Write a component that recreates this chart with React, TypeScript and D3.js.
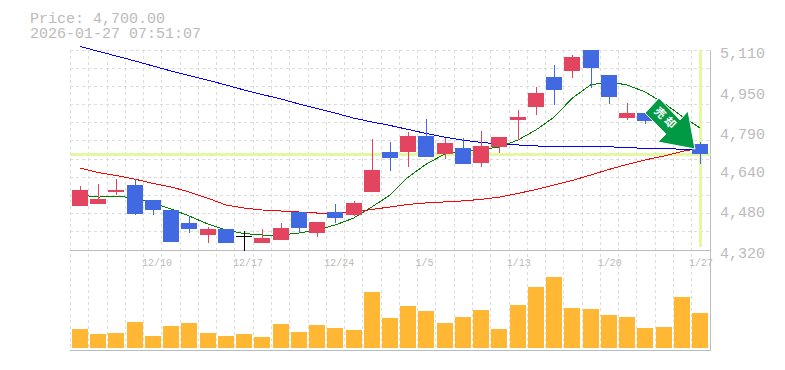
import React from "react";
import * as d3 from "d3";

const highs = [4573,4581,4600,4600,4518,4478,4454,4411,4403,4395,4403,4427,4470,4431,4502,4514,4758,4747,4786,4837,4762,4762,4790,4766,4873,4964,5051,5090,5140,5011,4901,4861,4889,4822,4747];
const lows = [4494,4502,4537,4458,4458,4352,4387,4348,4348,4316,4348,4360,4387,4371,4427,4454,4549,4632,4648,4687,4679,4660,4648,4703,4754,4853,4893,4999,4960,4897,4833,4818,4802,4740,4660];
const opens = [4494,4502,4549,4577,4518,4478,4427,4379,4403,4374,4348,4360,4470,4387,4470,4458,4549,4707,4707,4770,4699,4723,4664,4727,4833,4885,5003,5027,5130,5011,4841,4861,4865,4814,4739];
const closes = [4557,4521,4557,4462,4478,4352,4403,4403,4348,4374,4367,4407,4407,4431,4446,4506,4636,4683,4770,4687,4743,4660,4731,4766,4845,4940,4952,5082,5039,4924,4861,4830,4826,4754,4700];
const maBlue = [5124,5105,5086,5067,5047,5027,5009,4991,4972,4952,4934,4917,4897,4879,4861,4841,4826,4812,4796,4780,4766,4754,4745,4739,4735,4731,4729,4728,4728,4728,4724,4722,4721,4718,4715];
const maRed = [4644,4626,4614,4600,4583,4569,4549,4525,4498,4486,4478,4474,4470,4466,4466,4470,4480,4490,4500,4506,4510,4514,4520,4529,4543,4559,4577,4595,4616,4638,4658,4676,4691,4709,4723];
const maGreen = [4537,4529,4533,4525,4506,4482,4454,4423,4399,4385,4379,4379,4387,4399,4419,4446,4490,4537,4608,4660,4699,4711,4717,4727,4754,4794,4845,4920,4972,4984,4972,4944,4901,4849,4802];
const volumes = [19,14,15,26,12,22,25,15,12,14,11,24,16,23,20,18,56,30,42,37,25,31,38,19,43,61,71,40,39,33,31,20,21,51,35];
const dateTicks: [number, string][] = [[4,"12/10"],[9,"12/17"],[14,"12/24"],[19,"1/5"],[24,"1/13"],[29,"1/20"],[34,"1/27"]];
const priceTicks = [5110,4950,4790,4640,4480,4320];
const currentPrice = 4700;
const title = ["Price: 4,700.00", "2026-01-27 07:51:07"];
const signal = "売却";

const W = 785, H = 370;
const L = 70, R = 709.5, T = 50, M = 250, B = 350;
const mono = "'Liberation Mono', monospace";
const GRID = "#dcdcdc", FRAME = "#bdbdbd", TXT = "#bbbbbb";
const NEON = "#e4f7a3";

export default function App() {
  const n = closes.length;
  const x = d3.scaleLinear().domain([0, n - 1]).range([80, 700]);
  const band = (R - L) / n;
  const y = d3.scaleLinear().domain([4320, 5110]).range([M, T]);
  const v = d3.scaleLinear().domain([0, 100]).range([348, 248]);
  const line = d3.line<number>().x((_, i) => x(i)).y(d => y(d));
  const hGrid = d3.range(0, 12).map(k => T + (k * (M - T)) / 11);
  const vGrid = d3.range(0, n).map(k => L + 0.5 + k * band);
  const tip = [695, 149];
  const arrow = [[-36,-51],[-50,-36],[-29,-15],[-37,-7],[0,0],[-7,-38],[-15,-29]];
  return (
    <svg width={W} height={H} style={{ position: "absolute", left: 0, top: 0, background: "#fff" }}>
      <defs>
        <clipPath id="price"><rect x={L} y={T} width={R - L + 1} height={M - T + 1} /></clipPath>
      </defs>
      {title.map((t, i) => (
        <text key={t} x={30} y={23 + i * 15} fontFamily={mono} fontSize={15} fill={TXT}>{t}</text>
      ))}
      <g stroke={GRID} strokeDasharray="3,3" shapeRendering="crispEdges">
        {hGrid.slice(0, -1).map(g => <line key={g} x1={L} x2={R} y1={g} y2={g} />)}
        {vGrid.map(g => <line key={g} x1={g} x2={g} y1={T} y2={B} />)}
      </g>
      <g fill={FRAME}>
        <rect x={L} y={M} width={R - L + 1} height={1} />
        <rect x={L} y={B} width={R - L + 1} height={1} />
        <rect x={710} y={T} width={1} height={B - T + 1} />
      </g>
      {volumes.map((d, i) => (
        <rect key={i} x={Math.round(x(i)) - 8} y={v(d)} width={16} height={v(0) - v(d)} fill="#ffb734" />
      ))}
      <rect x={Math.round(x(n - 1)) - 1} y={T} width={3} height={197} fill={NEON} />
      <rect x={L} y={Math.round(y(currentPrice)) - 1} width={R - L + 1} height={3} fill={NEON} />
      <g fill="none" shapeRendering="crispEdges">
        <path d={line(maGreen) ?? ""} stroke="#008000" strokeWidth={1} />
        <path d={line(maRed) ?? ""} stroke="#ff0000" strokeWidth={1} />
        <path d={line(maBlue) ?? ""} stroke="#0000ff" strokeWidth={1} />
      </g>
      <g clipPath="url(#price)" shapeRendering="crispEdges">
        {closes.map((c, i) => {
          const o = opens[i];
          const col = c === o ? "#000000" : c > o ? "#e3445f" : "#4169e1";
          const cx = Math.round(x(i));
          const top = y(Math.max(o, c));
          const bot = y(Math.min(o, c));
          return (
            <g key={i}>
              <rect x={cx} y={y(highs[i])} width={1} height={y(lows[i]) - y(highs[i])} fill={col} />
              <rect x={cx - 8} y={top} width={16} height={Math.max(bot - top, 1)} fill={col} />
            </g>
          );
        })}
      </g>
      <polygon points={arrow.map(p => `${tip[0] + p[0]},${tip[1] + p[1]}`).join(" ")} fill="#009944" stroke="#ffffff" strokeWidth={1} strokeLinejoin="round" />
      <text transform={`translate(${tip[0] - 29.5},${tip[1] - 29.5}) rotate(45)`} textAnchor="middle" dominantBaseline="middle"
        fontFamily="'Noto Sans CJK JP'" fontWeight={700} fontSize={11} letterSpacing={3} fill="#ffffff">{signal}</text>
      {priceTicks.map(p => (
        <text key={p} x={720} y={y(p) + 8} fontFamily={mono} fontSize={15} fill={TXT}>{d3.format(",")(p)}</text>
      ))}
      {dateTicks.map(([i, t]) => (
        <text key={t} x={x(i) - 11} y={266} fontFamily={mono} fontSize={10} fill={TXT}>{t}</text>
      ))}
    </svg>
  );
}
